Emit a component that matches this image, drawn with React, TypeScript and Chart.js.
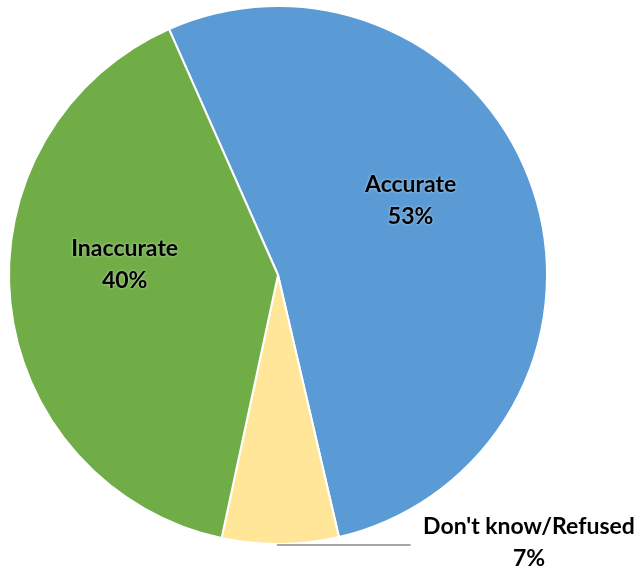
import React, { useEffect, useRef } from "react";
import { Chart, registerables } from "chart.js";

Chart.register(...registerables);

const categories = ["Accurate", "Don't know/Refused", "Inaccurate"];
const values = [53, 7, 40];
const percentLabels = ["53%", "7%", "40%"];
const colors = ["#5B9BD5", "#FFE699", "#70AD47"];

const labelPlugin = {
  id: "sliceLabels",
  afterDraw(chart: any) {
    const meta = chart.getDatasetMeta(0);
    const arc = meta.data[0];
    if (!arc) return;
    const cx = arc.x;
    const cy = arc.y;
    const r = arc.outerRadius;
    const ctx = chart.ctx;
    ctx.save();
    // leader line for small slice
    ctx.strokeStyle = "#A6A6A6";
    ctx.lineWidth = 2;
    ctx.beginPath();
    ctx.moveTo(cx - 0.004 * r, cy + 1.004 * r);
    ctx.lineTo(cx + 0.493 * r, cy + 1.004 * r);
    ctx.stroke();

    const anchors = [
      [0.493, -0.278],
      [0.933, 0.995],
      [-0.57, -0.037],
    ];
    ctx.font = "bold 23px Lato";
    ctx.fillStyle = "#000";
    ctx.textAlign = "center";
    ctx.textBaseline = "middle";
    ctx.shadowColor = "rgba(255,255,255,0.6)";
    ctx.shadowBlur = 3;
    categories.forEach((c, i) => {
      const x = cx + anchors[i][0] * r;
      const y = cy + anchors[i][1] * r;
      ctx.fillText(c, x, y - 16);
      ctx.fillText(percentLabels[i], x, y + 16);
    });
    ctx.restore();
  },
};

export default function App() {
  const ref = useRef<HTMLCanvasElement>(null);
  useEffect(() => {
    if (!ref.current) return;
    const chart = new Chart(ref.current, {
      type: "pie",
      data: {
        labels: categories,
        datasets: [
          {
            data: values,
            backgroundColor: colors,
            borderColor: "#FFFFFF",
            borderWidth: 2,
          },
        ],
      },
      options: {
        animation: false,
        responsive: false,
        rotation: -23.9,
        layout: { padding: { left: 8, top: 5, right: 88, bottom: 26 } },
        plugins: { legend: { display: false }, tooltip: { enabled: false } },
      },
      plugins: [labelPlugin],
    });
    return () => chart.destroy();
  }, []);
  return (
    <div style={{ position: "fixed", left: 0, top: 0, width: 636, height: 571, background: "#fff" }}>
      <canvas ref={ref} width={636} height={571} />
    </div>
  );
}
